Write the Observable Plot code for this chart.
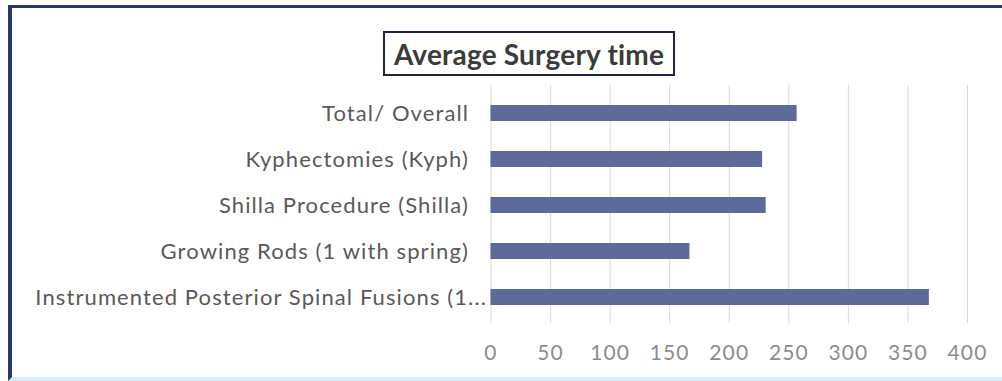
<!DOCTYPE html>
<html>
<head>
<meta charset="utf-8">
<script src="https://cdn.jsdelivr.net/npm/d3@7"></script>
<script src="https://cdn.jsdelivr.net/npm/@observablehq/plot@0.6"></script>
<style>
  html, body { margin: 0; padding: 0; background: #fff; }
  #page { position: relative; width: 1002px; height: 381px; overflow: hidden; background: #fff; }
  #frame {
    position: absolute; left: 8px; top: 5px; right: -10px; bottom: 0;
    border-top: 3px solid #27396a; border-left: 4px solid #27396a;
    border-bottom: 4px solid #d6ecf8;
  }
  #title {
    position: absolute; left: 383px; top: 31px; width: 288px; height: 41px;
    border: 2px solid #1f2440; box-sizing: content-box;
    font-family: Lato, sans-serif; font-weight: bold; font-size: 28px;
    letter-spacing: 0.2px;
    color: #3b3b3b; text-align: center; line-height: 43px;
  }
  #chart { position: absolute; left: 0; top: 80px; }
</style>
</head>
<body>
<div id="page">
  <div id="frame"></div>
  <div id="title">Average Surgery time</div>
  <div id="chart"></div>
</div>
<script>
// Average surgery time (minutes) by procedure type
const categories = [
  "Total/ Overall",
  "Kyphectomies (Kyph)",
  "Shilla Procedure (Shilla)",
  "Growing Rods (1 with spring)",
  "Instrumented Posterior Spinal Fusions (1..."
];
const minutes = [257, 228, 231, 167, 368];
const xTicks = [0, 50, 100, 150, 200, 250, 300, 350, 400];

const data = categories.map((category, i) => ({category, minutes: minutes[i]}));

// the truncated category label sits closer to its bar
const shortLabels = categories.slice(0, 4);
const longLabels = categories.slice(4);

const chart = Plot.plot({
  width: 1002,
  height: 290,
  marginLeft: 490.5,
  marginRight: 35,
  marginTop: 5,
  marginBottom: 47,
  style: {fontFamily: "Lato, sans-serif", fontSize: "22px", letterSpacing: "1.1px", background: "transparent"},
  x: {domain: [0, 400]},
  y: {domain: categories, paddingInner: 0.65, paddingOuter: 0.325, insetTop: 5, insetBottom: 2},
  marks: [
    Plot.ruleX(xTicks, {stroke: "#d9d9d9", strokeWidth: 1}),
    Plot.barX(data, {y: "category", x: "minutes", fill: "#5d6b9b"}),
    Plot.axisX({ticks: xTicks, tickSize: 0, tickPadding: 22, fontSize: 21, fill: "#8c8c8c", label: null}),
    Plot.axisY({ticks: shortLabels, tickSize: 0, tickPadding: 22, fill: "#595959", label: null}),
    Plot.axisY({ticks: longLabels, tickSize: 0, tickPadding: 4, fill: "#595959", label: null})
  ]
});
document.getElementById("chart").appendChild(chart);
</script>
</body>
</html>
